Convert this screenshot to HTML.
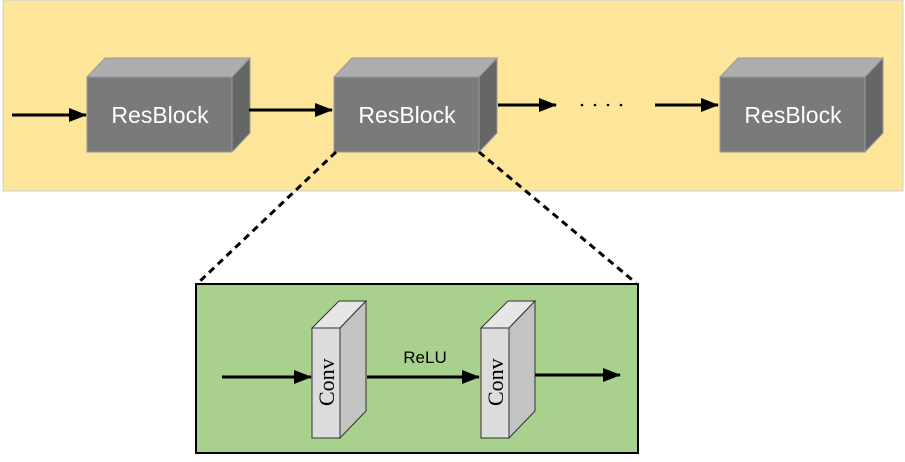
<!DOCTYPE html>
<html><head><style>body{margin:0;background:#fff}</style></head><body>
<svg width="905" height="457" viewBox="0 0 905 457" xmlns="http://www.w3.org/2000/svg">
<defs><marker id="b" markerWidth="18" markerHeight="14" refX="17" refY="7" orient="auto" markerUnits="userSpaceOnUse"><path d="M0,0 L18,7 L0,14 z" fill="#000"/></marker></defs>
<rect x="3" y="0" width="900" height="191" fill="#fde59a" stroke="#c8d0e0" stroke-width="1"/>
<g font-family="Liberation Sans, sans-serif" font-size="23" fill="#fff" text-anchor="middle">
<g><polygon points="87,77 105,58 250,58 232,77" fill="#adadad" stroke="#999"/><polygon points="232,77 250,58 250,133 232,152" fill="#666" stroke="#999"/><rect x="87" y="77" width="145" height="75" fill="#7a7a7a" stroke="#999"/><text x="160" y="123">ResBlock</text></g>
<g transform="translate(247,0)"><polygon points="87,77 105,58 250,58 232,77" fill="#adadad" stroke="#999"/><polygon points="232,77 250,58 250,133 232,152" fill="#666" stroke="#999"/><rect x="87" y="77" width="145" height="75" fill="#7a7a7a" stroke="#999"/><text x="160" y="123">ResBlock</text></g>
<g transform="translate(633,0)"><polygon points="87,77 105,58 250,58 232,77" fill="#adadad" stroke="#999"/><polygon points="232,77 250,58 250,133 232,152" fill="#666" stroke="#999"/><rect x="87" y="77" width="145" height="75" fill="#7a7a7a" stroke="#999"/><text x="160" y="123">ResBlock</text></g>
</g>
<g stroke="#000" stroke-width="3">
<line x1="12" y1="115" x2="86" y2="115" marker-end="url(#b)"/>
<line x1="249" y1="110" x2="332" y2="110" marker-end="url(#b)"/>
<line x1="498" y1="105" x2="556" y2="105" marker-end="url(#b)"/>
<line x1="655" y1="105" x2="718" y2="105" marker-end="url(#b)"/>
</g>
<g fill="#000"><circle cx="582" cy="105" r="1.3"/><circle cx="595" cy="105" r="1.3"/><circle cx="608" cy="105" r="1.3"/><circle cx="621" cy="105" r="1.3"/></g>
<g stroke="#000" stroke-width="3" stroke-dasharray="7,5"><line x1="336" y1="152" x2="198" y2="283"/><line x1="479" y1="152" x2="636" y2="283"/></g>
<rect x="196" y="284" width="442" height="169" fill="#a9d18e" stroke="#000" stroke-width="2"/>
<g font-family="Liberation Serif, serif" font-size="22" fill="#000">
<polygon points="312,328 339,301 366,301 340,328" fill="#e6e6e6" stroke="#333"/><polygon points="340,328 366,301 366,411 340,438" fill="#c3c3c3" stroke="#333"/><rect x="312" y="328" width="28" height="110" fill="#dcdcdc" stroke="#333"/>
<text transform="translate(334,406) rotate(-90)">Conv</text>
<polygon points="481,328 508,301 535,301 509,328" fill="#e6e6e6" stroke="#333"/><polygon points="509,328 535,301 535,411 509,438" fill="#c3c3c3" stroke="#333"/><rect x="481" y="328" width="28" height="110" fill="#dcdcdc" stroke="#333"/>
<text transform="translate(503,406) rotate(-90)">Conv</text>
</g>
<g stroke="#000" stroke-width="3">
<line x1="222" y1="377" x2="311" y2="377" marker-end="url(#b)"/>
<line x1="367" y1="377" x2="479" y2="377" marker-end="url(#b)"/>
<line x1="535" y1="375" x2="620" y2="375" marker-end="url(#b)"/>
</g>
<text x="425" y="363" font-family="Liberation Sans, sans-serif" font-size="17" text-anchor="middle">ReLU</text>
</svg>
</body></html>
